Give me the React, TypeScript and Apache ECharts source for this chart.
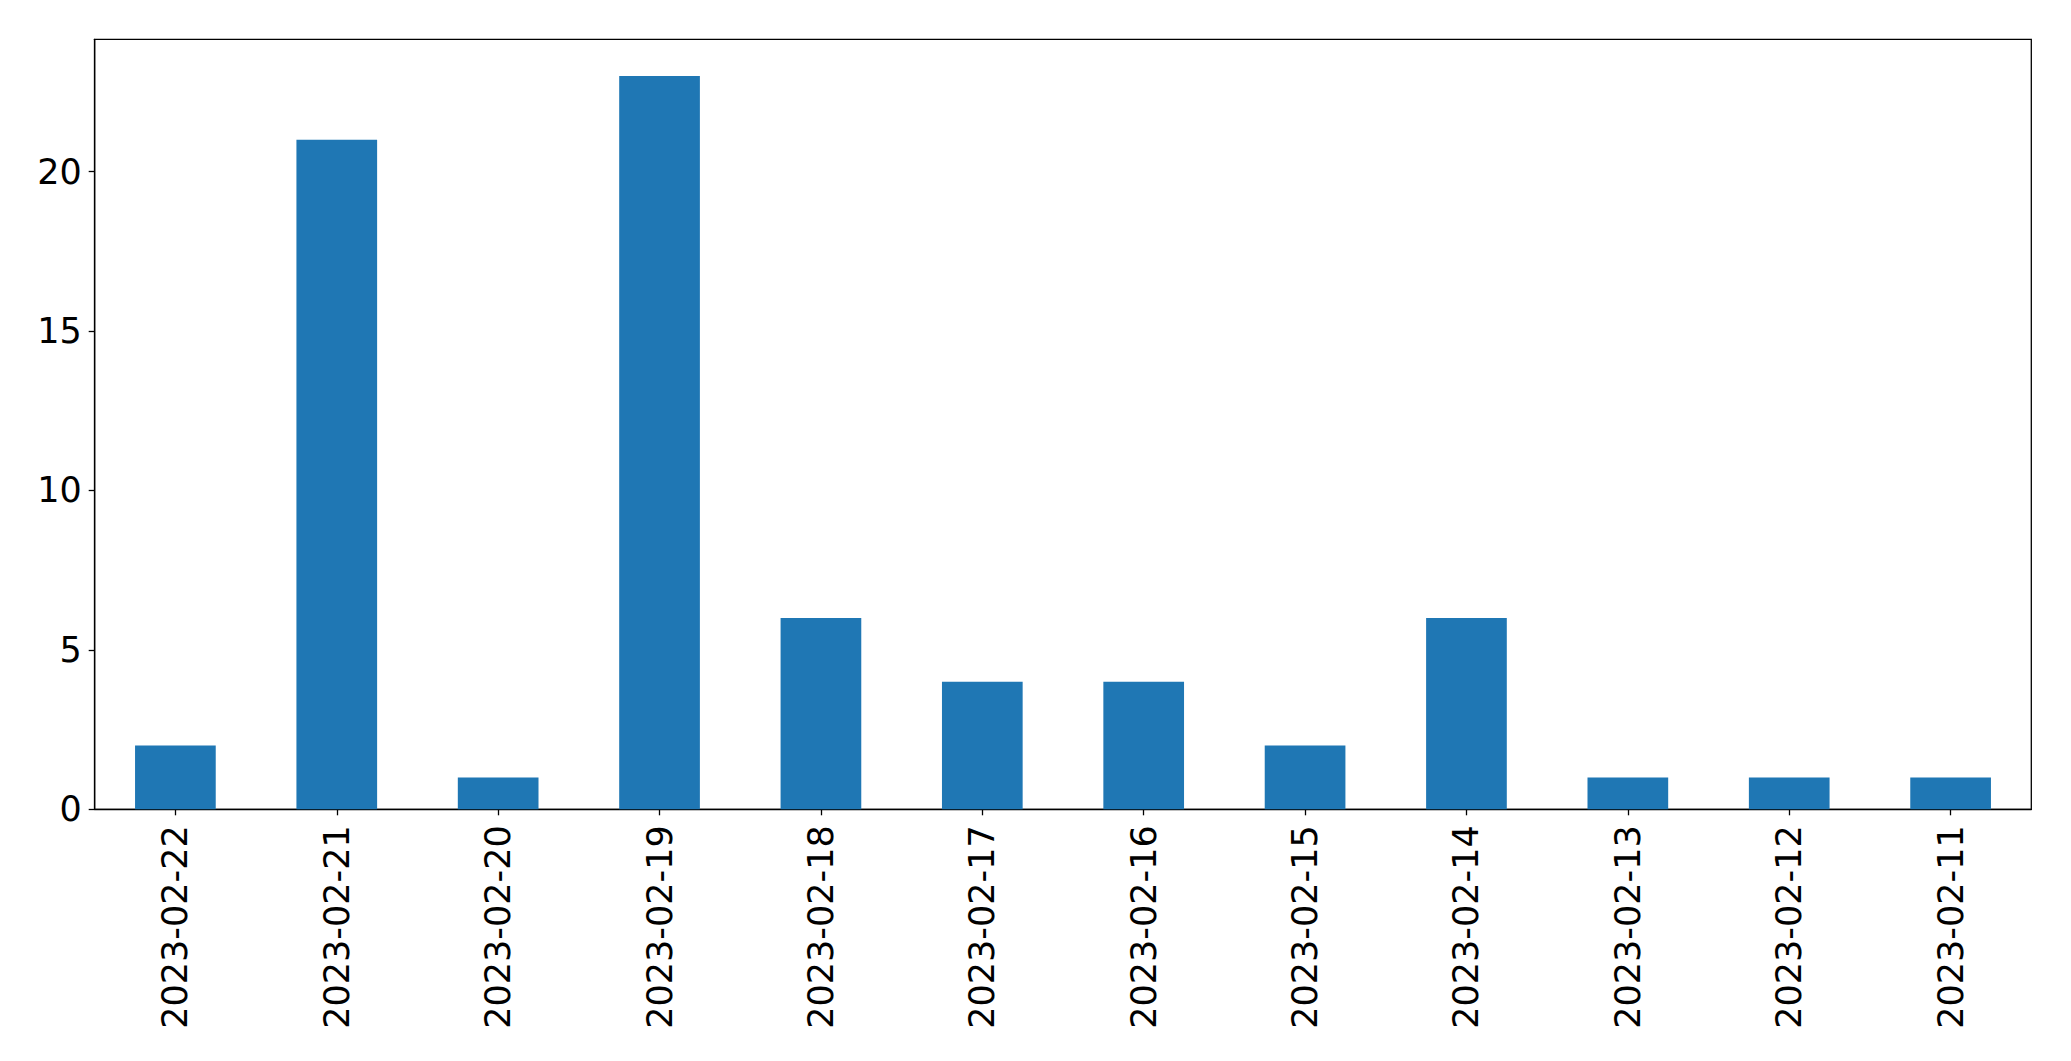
import React, { useEffect, useRef } from "react";
import * as echarts from "echarts";

const categories = [
  "2023-02-22", "2023-02-21", "2023-02-20", "2023-02-19", "2023-02-18", "2023-02-17",
  "2023-02-16", "2023-02-15", "2023-02-14", "2023-02-13", "2023-02-12", "2023-02-11",
];
const values = [2, 21, 1, 23, 6, 4, 4, 2, 6, 1, 1, 1];
const yTicks = [0, 5, 10, 15, 20];

export default function App() {
  const ref = useRef<HTMLDivElement>(null);
  useEffect(() => {
    if (!ref.current) return;
    const chart = echarts.init(ref.current, null, { renderer: "svg" });
    const font = "DejaVu Sans";
    chart.setOption({
      animation: false,
      backgroundColor: "#ffffff",
      grid: {
        left: 94.7,
        top: 39.3,
        right: 39.7,
        bottom: 251.7,
        show: true,
        borderColor: "#000000",
        borderWidth: 1.3,
        containLabel: false,
      },
      xAxis: {
        type: "category",
        data: categories,
        boundaryGap: true,
        axisLine: { show: true, lineStyle: { color: "#000000", width: 1.3 } },
        axisTick: { show: true, alignWithLabel: true, length: 6, lineStyle: { color: "#000000", width: 1.3 } },
        axisLabel: {
          rotate: 90,
          margin: 16,
          fontFamily: font,
          fontSize: 35,
          color: "#000000",
          interval: 0,
        },
        splitLine: { show: false },
      },
      yAxis: {
        type: "value",
        min: 0,
        max: 24.15,
        interval: 5,
        axisLine: { show: true, lineStyle: { color: "#000000", width: 1.3 } },
        axisTick: { show: true, length: 6, lineStyle: { color: "#000000", width: 1.3 }, customValues: yTicks },
        axisLabel: {
          margin: 13,
          fontFamily: font,
          fontSize: 35,
          color: "#000000",
          customValues: yTicks,
        },
        splitLine: { show: false },
      },
      series: [
        {
          type: "bar",
          data: values,
          barWidth: "50%",
          itemStyle: { color: "#1f77b4" },
        },
      ],
    });
    return () => chart.dispose();
  }, []);
  return (
    <div
      ref={ref}
      style={{ position: "fixed", left: 0, top: 0, width: 2071, height: 1061, background: "#fff" }}
    />
  );
}
